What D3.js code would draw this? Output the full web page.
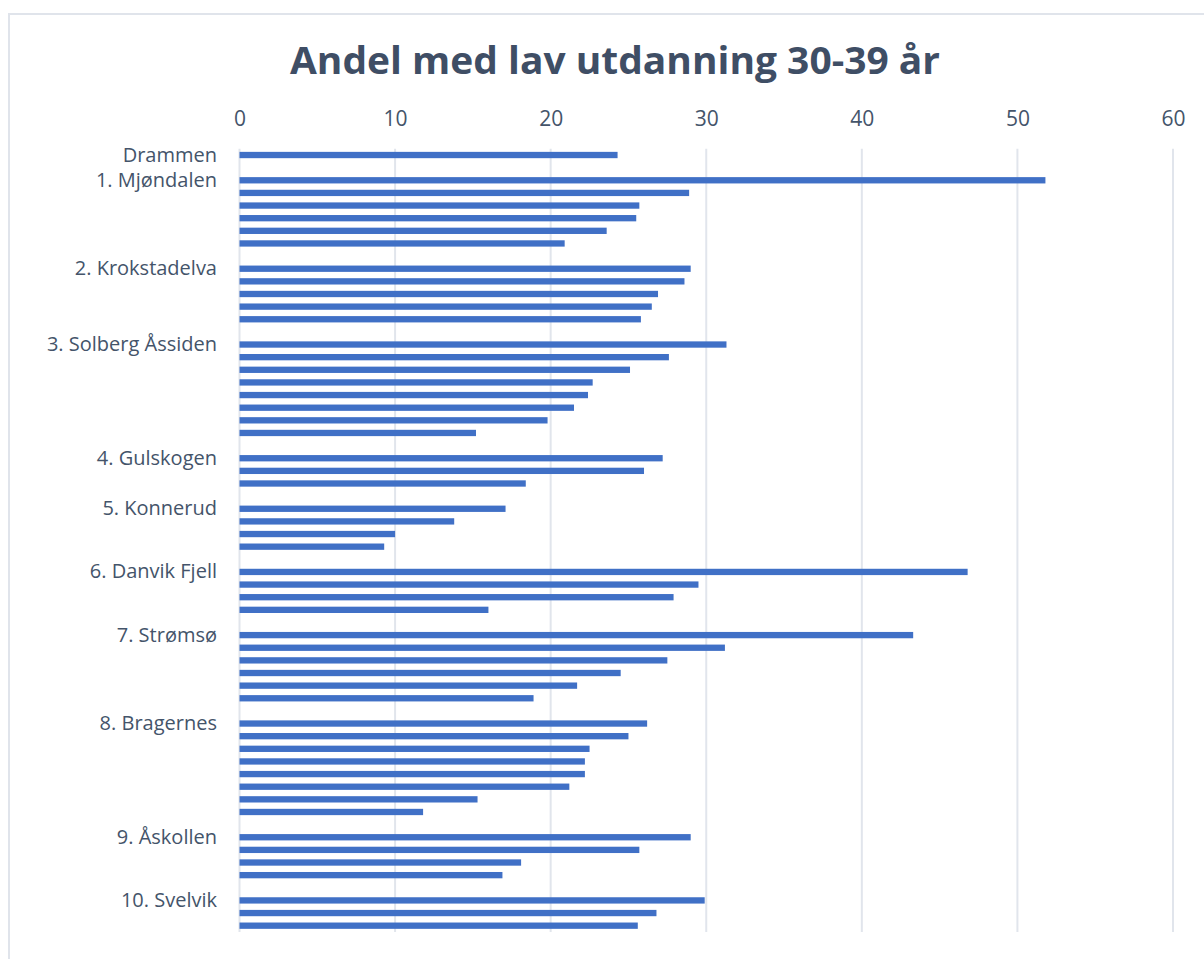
<!DOCTYPE html>
<html>
<head>
<meta charset="utf-8">
<script src="https://cdn.jsdelivr.net/npm/d3@7"></script>
<style>
  body { margin: 0; background: #fff; }
  svg text { font-family: "Open Sans", "Noto Sans", sans-serif; }
</style>
</head>
<body>
<svg id="chart" width="1204" height="959"></svg>
<script>

// group labels (only the first bar of each group has a label)
var groupNames = ["Drammen", "1. Mjøndalen", "2. Krokstadelva", "3. Solberg Åssiden",
  "4. Gulskogen", "5. Konnerud", "6. Danvik Fjell", "7. Strømsø", "8. Bragernes",
  "9. Åskollen", "10. Svelvik"];

// values, percent
var drammen      = [24.3];
var mjondalen    = [51.8, 28.9, 25.7, 25.5, 23.6, 20.9];
var krokstadelva = [29.0, 28.6, 26.9, 26.5, 25.8];
var solberg      = [31.3, 27.6, 25.1, 22.7, 22.4, 21.5, 19.8, 15.2];
var gulskogen    = [27.2, 26.0, 18.4];
var konnerud     = [17.1, 13.8, 10.0, 9.3];
var danvik       = [46.8, 29.5, 27.9, 16.0];
var stromso      = [43.3, 31.2, 27.5, 24.5, 21.7, 18.9];
var bragernes    = [26.2, 25.0, 22.5, 22.2, 22.2, 21.2, 15.3, 11.8];
var askollen     = [29.0, 25.7, 18.1, 16.9];
var svelvik      = [29.9, 26.8, 25.6];

var xTicks = [0, 10, 20, 30, 40, 50, 60];

var groupValues = [drammen, mjondalen, krokstadelva, solberg, gulskogen, konnerud,
  danvik, stromso, bragernes, askollen, svelvik];

// flatten into rows, with an empty row between groups
var rows = [];
groupValues.forEach(function(vals, g) {
  vals.forEach(function(v, i) {
    rows.push({ id: g + "-" + i, value: v, label: i === 0 ? groupNames[g] : null });
  });
  if (g < groupValues.length - 1) rows.push({ id: "gap" + g, value: null, label: null });
});

var svg = d3.select("#chart");

// frame
svg.append("rect")
  .attr("x", 9).attr("y", 14)
  .attr("width", 1220).attr("height", 980)
  .attr("fill", "none")
  .attr("stroke", "#e0e4eb")
  .attr("stroke-width", 2);

var x = d3.scaleLinear().domain([0, 60]).range([239.5, 1173]);
var y = d3.scaleBand()
  .domain(rows.map(function(d) { return d.id; }))
  .range([148.7, 932])
  .paddingInner(0.5)
  .paddingOuter(0.25);

// title
svg.append("text")
  .attr("x", 615).attr("y", 74)
  .attr("text-anchor", "middle")
  .attr("font-size", 38)
  .attr("font-weight", 700)
  .attr("fill", "#3f4e65")
  .attr("textLength", 650)
  .attr("lengthAdjust", "spacingAndGlyphs")
  .text("Andel med lav utdanning 30-39 år");

// grid lines
svg.append("g")
  .selectAll("line")
  .data(xTicks)
  .join("line")
  .attr("x1", function(d) { return x(d); })
  .attr("x2", function(d) { return x(d); })
  .attr("y1", 148.7).attr("y2", 932)
  .attr("stroke", "#e1e5ec")
  .attr("stroke-width", 2);

// top axis
var xAxis = svg.append("g")
  .attr("transform", "translate(0,126)")
  .call(d3.axisTop(x).tickValues(xTicks).tickSize(0).tickPadding(0));
xAxis.select(".domain").remove();
xAxis.selectAll("text")
  .attr("font-size", 21)
  .attr("fill", "#44546a")
  .style("font-family", "'Open Sans', sans-serif");

// bars
svg.append("g")
  .selectAll("rect")
  .data(rows.filter(function(d) { return d.value !== null; }))
  .join("rect")
  .attr("x", x(0))
  .attr("y", function(d) { return y(d.id); })
  .attr("width", function(d) { return x(d.value) - x(0); })
  .attr("height", y.bandwidth())
  .attr("fill", "#4070c6");

// category labels
svg.append("g")
  .selectAll("text")
  .data(rows.filter(function(d) { return d.label; }))
  .join("text")
  .attr("x", 217)
  .attr("y", function(d) { return y(d.id) + y.bandwidth() / 2 + 6.5; })
  .attr("text-anchor", "end")
  .attr("font-size", 20)
  .attr("fill", "#44546a")
  .text(function(d) { return d.label; });

</script>
</body>
</html>
